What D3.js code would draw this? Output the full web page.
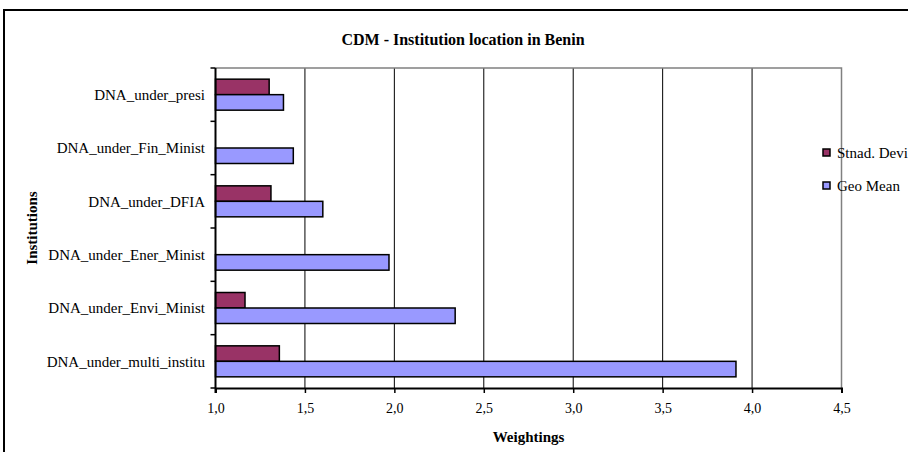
<!DOCTYPE html>
<html><head><meta charset="utf-8">
<script src="https://cdn.jsdelivr.net/npm/d3@7"></script>
<style>body{margin:0;background:#fff}svg{display:block;font-family:"Liberation Serif","Times New Roman",serif}</style>
</head><body><svg id="c" width="908" height="452"></svg>
<script>
const categories = ["DNA_under_presi","DNA_under_Fin_Minist","DNA_under_DFIA","DNA_under_Ener_Minist","DNA_under_Envi_Minist","DNA_under_multi_institu"];
const stdDev = [1.30, null, 1.31, null, 1.165, 1.357];
const geoMean = [1.38, 1.435, 1.60, 1.97, 2.34, 3.91];
const xTicks = [1.0,1.5,2.0,2.5,3.0,3.5,4.0,4.5];
const seriesNames = ["Stnad. Devi", "Geo Mean"];
const colors = ["#993366", "#9999FF"];

const svg = d3.select("#c");
const L = 215.5, R = 841.5, T = 68, B = 388;
const FONT = "Liberation Serif";

svg.append("rect").attr("x",4).attr("y",10).attr("width",930).attr("height",460)
  .attr("fill","#fff").attr("stroke","#000").attr("stroke-width",2);

const x = d3.scaleLinear().domain([1,4.5]).range([L,R]);
const y = d3.scaleBand().domain(categories).range([T,B]);

svg.append("g").selectAll("line").data(xTicks.slice(1,-1)).join("line")
  .attr("x1",d=>x(d)).attr("x2",d=>x(d)).attr("y1",T).attr("y2",B)
  .attr("stroke","#000").attr("stroke-width",1);
svg.append("path").attr("d",`M${L},${T}H${R}V${B}`).attr("fill","none").attr("stroke","#808080").attr("stroke-width",1.5);

const bh = 15.5;
const sub = d3.scaleBand().domain([0,1]).range([0,2*bh]);
const off = (y.bandwidth()-2*bh)/2;
[stdDev, geoMean].forEach((vals,si)=>{
  svg.append("g").selectAll("rect").data(categories.map((c,i)=>({c,v:vals[i]})).filter(d=>d.v!=null)).join("rect")
    .attr("x",x(1)).attr("y",d=>y(d.c)+off+sub(si))
    .attr("width",d=>x(d.v)-x(1)).attr("height",bh)
    .attr("fill",colors[si]).attr("stroke","#000").attr("stroke-width",1.5);
});

const xa = svg.append("g").attr("transform",`translate(0,${B})`)
  .call(d3.axisBottom(x).tickValues(xTicks).tickSize(5).tickPadding(10).tickFormat(d=>d3.format(".1f")(d).replace(".",",")));
xa.select(".domain").attr("stroke","#000").attr("stroke-width",2);
xa.selectAll(".tick line").attr("stroke","#000").attr("stroke-width",1.5);
xa.selectAll("text").attr("font-size",14).attr("fill","#000").attr("font-family",FONT);

svg.append("line").attr("x1",L).attr("x2",L).attr("y1",T).attr("y2",B+5).attr("stroke","#000").attr("stroke-width",2);
svg.append("g").selectAll("line").data(categories.map(c=>y(c)).concat([B])).join("line")
  .attr("x1",L-5).attr("x2",L).attr("y1",d=>d).attr("y2",d=>d).attr("stroke","#000").attr("stroke-width",1.5);
svg.append("g").selectAll("text").data(categories).join("text")
  .attr("x",205).attr("y",d=>y(d)+y.bandwidth()/2).attr("dy","0.35em")
  .attr("text-anchor","end").attr("font-size",15).attr("font-family",FONT).text(d=>d);

svg.append("text").attr("x",463).attr("y",45).attr("text-anchor","middle").attr("font-size",16).attr("font-weight","bold").attr("font-family",FONT).text("CDM - Institution location in Benin");
svg.append("text").attr("x",(L+R)/2).attr("y",442).attr("text-anchor","middle").attr("font-size",15).attr("font-weight","bold").attr("font-family",FONT).text("Weightings");
svg.append("text").attr("transform",`translate(37,${(T+B)/2}) rotate(-90)`).attr("text-anchor","middle").attr("font-size",15).attr("font-weight","bold").attr("font-family",FONT).text("Institutions");

const lg = svg.append("g");
seriesNames.forEach((n,i)=>{
  const yy = 153 + i*33;
  lg.append("rect").attr("x",823).attr("y",yy-4).attr("width",7).attr("height",7).attr("fill",colors[i]).attr("stroke","#000").attr("stroke-width",1.5);
  lg.append("text").attr("x",837).attr("y",yy).attr("dy","0.35em").attr("font-size",15).attr("font-family",FONT).text(n);
});
</script></body></html>
